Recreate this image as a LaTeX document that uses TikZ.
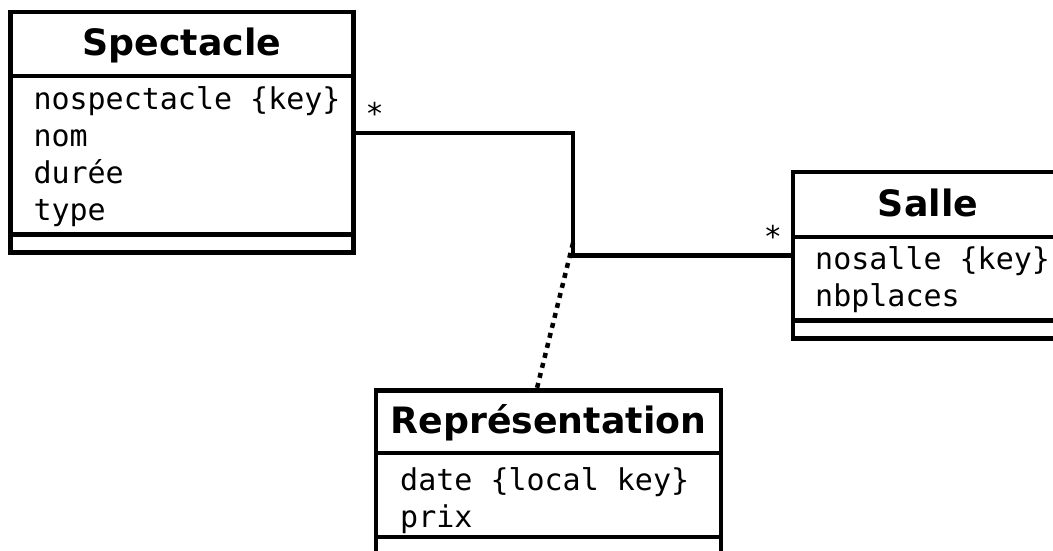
\documentclass[tikz,border=0pt]{standalone}
\usepackage{fontspec}
\newfontfamily\titlefont{DejaVu Sans}
\newfontfamily\attrfont{DejaVu Sans Mono}
\tikzset{
  compart/.style={draw, line width=4.5pt, inner sep=0pt, rectangle},
  titlecomp/.style={compart, font=\titlefont\bfseries\fontsize{36.3}{36}\selectfont, text height=24pt, text depth=0pt},
  attr/.style={inner sep=0pt, anchor=base west, font=\attrfont\fontsize{30}{36}\selectfont},
  mult/.style={inner sep=0pt, anchor=base, font=\attrfont\fontsize{30}{36}\selectfont},
  assoc/.style={line width=4.5pt},
  dotline/.style={line width=4.5pt, dash pattern=on 5pt off 5.3pt}
}
\begin{document}
\begin{tikzpicture}[x=1pt,y=-1pt]
\useasboundingbox (0,0) rectangle (1053,551);
% Spectacle
\node[titlecomp, minimum width=343.4pt, minimum height=64pt] (spT) at (182,44) {Spectacle};
\node[compart, minimum width=343.4pt, minimum height=158.5pt] (spA) at (182,155.25) {};
\node[compart, minimum width=343.4pt, minimum height=18.2pt] (spM) at (182,243.6) {};
\node[attr] (sp1) at (33.3,110) {nospectacle \{key\}};
\node[attr] (sp2) at (33.3,146.7) {nom};
\node[attr] (sp3) at (33.3,183.3) {durée};
\node[attr] (sp4) at (33.3,220) {type};
% Salle
\node[titlecomp, minimum width=270.4pt, minimum height=65pt] (saT) at (928,204.5) {Salle};
\node[compart, minimum width=270.4pt, minimum height=83.5pt] (saA) at (928,278.75) {};
\node[compart, minimum width=270.4pt, minimum height=18.2pt] (saM) at (928,329.6) {};
\node[attr] (sa1) at (815,269.5) {nosalle \{key\}};
\node[attr] (sa2) at (815,306) {nbplaces};
% Representation
\node[titlecomp, minimum width=344.6pt, minimum height=62.7pt] (rT) at (548.5,421.65) {Représentation};
\node[compart, minimum width=344.6pt, minimum height=84pt] (rA) at (548.5,495) {};
\node[compart, minimum width=344.6pt, minimum height=38pt] (rM) at (548.5,556) {};
\node[attr] (r1) at (400,490.5) {date \{local key\}};
\node[attr] (r2) at (400,527) {prix};
% association
\coordinate (j1) at (573,133);
\coordinate (j2) at (573,255.5);
\coordinate (d1) at (573,243);
\draw[assoc] (spA.east |- j1) -- (j1) -- (j2) -- (saA.west |- j2);
\draw[dotline] (d1) -- ([xshift=-11.5pt]rT.north);
\node[mult] (m1) at (374.7,124.7) {*};
\node[mult] (m2) at (773,247.4) {*};
\end{tikzpicture}
\end{document}
